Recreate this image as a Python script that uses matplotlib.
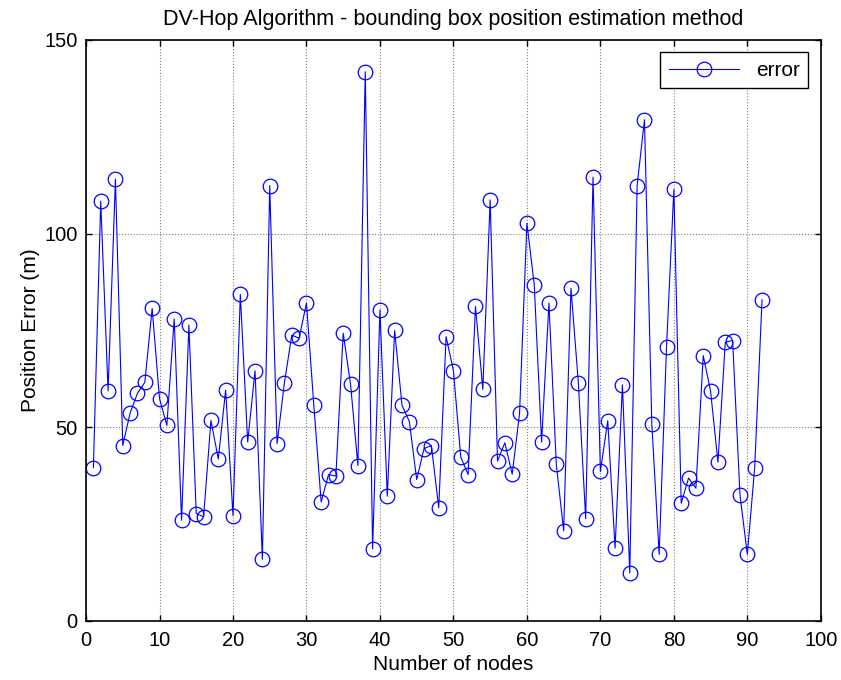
import matplotlib
matplotlib.use("Agg")
import matplotlib.pyplot as plt
import numpy as np

plt.rcParams['font.family'] = ['Liberation Sans', 'DejaVu Sans']

#### Data (node index -> position error)
nodes = np.arange(1, 93)
error = [39.6, 108.4, 59.4, 114.1, 45.3, 53.7, 58.8, 61.6, 80.7, 57.4,
         50.5, 78.0, 26.0, 76.4, 27.7, 26.9, 51.8, 41.8, 59.6, 27.2,
         84.3, 46.2, 64.6, 15.9, 112.4, 45.8, 61.5, 73.8, 73.0, 82.1,
         55.7, 30.7, 37.8, 37.4, 74.3, 61.1, 40.1, 141.8, 18.6, 80.3,
         32.2, 75.0, 55.7, 51.5, 36.5, 44.5, 45.3, 29.2, 73.4, 64.6,
         42.3, 37.8, 81.2, 59.8, 108.7, 41.3, 46.0, 37.9, 53.6, 102.7,
         86.8, 46.2, 82.1, 40.5, 23.3, 85.9, 61.5, 26.4, 114.6, 38.6,
         51.7, 18.8, 61.0, 12.4, 112.4, 129.4, 50.9, 17.2, 70.7, 111.4,
         30.4, 36.9, 34.3, 68.5, 59.3, 41.0, 72.0, 72.4, 32.5, 17.2,
         39.6, 82.9]

fig = plt.figure(figsize=(8.41, 6.8), dpi=100)
ax = fig.add_axes([0.1023, 0.0868, 0.8737, 0.8544])

ax.plot(nodes, error, '-o', color='blue', linewidth=0.8,
        markersize=10.5, markerfacecolor='none', markeredgewidth=0.9,
        label='error')

ax.set_xlim(0, 100)
ax.set_ylim(0, 150)
ax.set_xticks(np.arange(0, 101, 10))
ax.set_yticks([0, 50, 100, 150])
ax.tick_params(direction='in', top=True, right=True, labelsize=14.5,
               length=4, width=1)
ax.tick_params(axis='x', pad=7)
ax.tick_params(axis='y', pad=6)
ax.grid(True, color='gray', linestyle=':', linewidth=0.8)
for s in ax.spines.values():
    s.set_linewidth(1.2)

ax.set_title('DV-Hop Algorithm - bounding box position estimation method',
             fontsize=15.5, pad=11)
ax.set_xlabel('Number of nodes', fontsize=15, labelpad=4)
ax.set_ylabel('Position Error (m)', fontsize=15, labelpad=3)

leg = ax.legend(loc='upper right', fontsize=15, fancybox=False,
                framealpha=1, edgecolor='black', handlelength=3.4,
                borderaxespad=0.6, borderpad=0.4)
leg.get_frame().set_linewidth(1.0)

fig.savefig('out.png', dpi=100)
